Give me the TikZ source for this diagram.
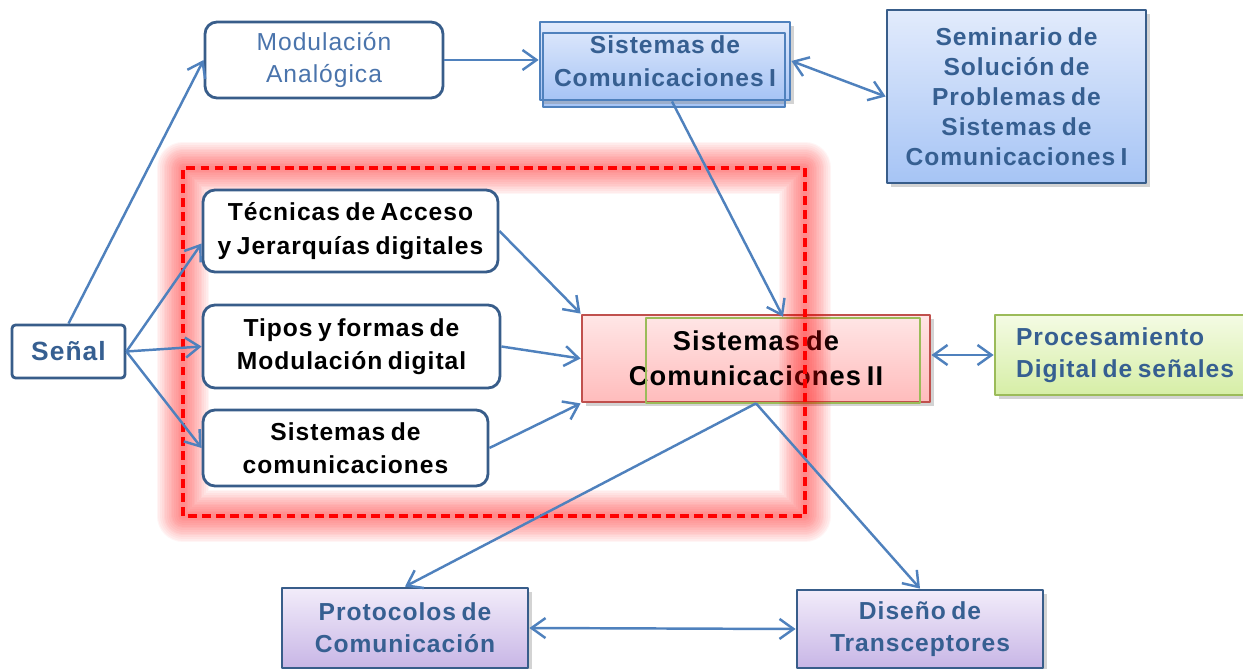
\documentclass[tikz,border=0pt]{standalone}
\usepackage{fontspec}
\setmainfont{Liberation Sans}[LetterSpace=4,WordSpace=0.7]
\usetikzlibrary{arrows.meta,shadows}
\definecolor{flecha}{RGB}{79,129,189}
\definecolor{borde}{RGB}{56,93,138}
\definecolor{texto}{RGB}{54,95,145}
\definecolor{textoclaro}{RGB}{74,116,172}
\definecolor{azularriba}{RGB}{226,235,252}
\definecolor{azulabajo}{RGB}{166,196,245}
\definecolor{verde}{RGB}{155,187,89}
\definecolor{verdearriba}{RGB}{244,251,228}
\definecolor{verdeabajo}{RGB}{214,238,166}
\definecolor{rojo}{RGB}{192,80,77}
\definecolor{rojoarriba}{RGB}{255,230,230}
\definecolor{rojoabajo}{RGB}{255,188,188}
\definecolor{lilaarriba}{RGB}{242,236,250}
\definecolor{lilaabajo}{RGB}{200,182,230}
\begin{document}
\begin{tikzpicture}[line join=round, >={Straight Barb[length=2.8mm,width=4mm]},
	caja/.style={draw=borde, line width=1.6pt, rounded corners=0.24cm, fill=white, align=center, inner sep=2pt, font=\bfseries\fontsize{14}{18.5}\selectfont},
	sombra/.style={drop shadow={opacity=0.35, shadow xshift=2.5pt, shadow yshift=-2.5pt}},
	cajaazul/.style={draw=#1, line width=1.6pt, top color=azularriba, bottom color=azulabajo, align=center, text=texto, inner sep=2pt, sombra, font=\bfseries\fontsize{14}{18}\selectfont},
	cajalila/.style={draw=borde, line width=1.6pt, top color=lilaarriba, bottom color=lilaabajo, align=center, text=texto, inner sep=2pt, sombra, minimum width=4.92cm, font=\bfseries\fontsize{14}{18}\selectfont},
	flechas/.style={draw=flecha, line width=1.4pt, ->}]
	\useasboundingbox (0,0) rectangle (24.86,13.36);
	% bloque central
	\node[draw=rojo, line width=1.6pt, top color=rojoarriba, bottom color=rojoabajo, sombra, minimum width=6.96cm, minimum height=1.74cm, align=center, font=\bfseries\fontsize{15.5}{20}\selectfont] (scii) at (15.12,6.19) {Sistemas de\\Comunicaciones II};
	\node[draw=verde, line width=1.4pt, minimum width=5.48cm, minimum height=1.70cm] (sciib) at (15.66,6.15) {};
	% recuadro rojo difuminado
	\foreach \w in {2,4,...,30}
		\draw[red, line width=\w pt, opacity=0.04] (3.66,3.04) rectangle (16.10,10.00);
	\draw[red, line width=1.9pt, dash pattern=on 5pt off 3pt] (3.66,3.04) rectangle (16.10,10.00);
	% nodos
	\node[draw=borde, line width=1.6pt, rounded corners=2pt, fill=white, text=texto, minimum width=2.26cm, minimum height=1.06cm, font=\bfseries\fontsize{15}{18}\selectfont] (senal) at (1.37,6.33) {Señal};
	\node[caja, text=textoclaro, minimum width=4.76cm, minimum height=1.52cm, font=\fontsize{14}{18.7}\selectfont] (modan) at (6.48,12.16) {Modulación\\Analógica};
	\shade[top color=azularriba, bottom color=azulabajo] (10.86,11.22) rectangle (15.70,12.70);
	\node[cajaazul=flecha, minimum width=5.00cm, minimum height=1.56cm, font=\bfseries\fontsize{14}{19}\selectfont] (sci) at (13.30,12.14) {Sistemas de\\Comunicaciones I};
	\draw[flecha, line width=1.4pt] (10.86,11.22) rectangle (15.70,12.70);
	\node[cajaazul=borde, minimum width=5.18cm, minimum height=3.46cm, font=\bfseries\fontsize{14}{17}\selectfont] (sem) at (20.33,11.43) {Seminario de\\Solución de\\Problemas de\\Sistemas de\\Comunicaciones I};
	\node[caja, minimum width=5.90cm, minimum height=1.64cm, font=\bfseries\fontsize{14}{19}\selectfont] (tec) at (7.01,8.74) {Técnicas de Acceso\\y Jerarquías digitales};
	\node[caja, minimum width=5.94cm, minimum height=1.66cm] (tip) at (7.03,6.43) {Tipos y formas de\\Modulación digital};
	\node[caja, minimum width=5.70cm, minimum height=1.52cm] (sis) at (6.91,4.40) {Sistemas de\\comunicaciones};
	\node[draw=verde, line width=1.6pt, top color=verdearriba, bottom color=verdeabajo, sombra, align=left, text=texto, minimum width=5.20cm, minimum height=1.60cm, font=\bfseries\fontsize{14}{18}\selectfont] (pro) at (22.50,6.26) {Procesamiento\\Digital de señales};
	\node[cajalila, minimum height=1.60cm] (prot) at (8.10,0.80) {Protocolos de\\Comunicación};
	\node[cajalila, minimum height=1.56cm] (dis) at (18.40,0.78) {Diseño de\\Transceptores};
	% conexiones
	\draw[flechas] (senal.north) -- (modan.west);
	\draw[flechas] (modan.east) -- (modan.east -| sci.west);
	\draw[flechas, <->] (sci.east) -- (sem.west);
	\draw[flechas] ([xshift=0.14cm]sci.south) -- (sciib.north);
	\draw[flechas] (senal.east) -- ([yshift=-0.25cm]tec.west);
	\draw[flechas] (senal.east) -- (tip.west);
	\draw[flechas] (senal.east) -- (sis.west);
	\draw[flechas] (tec.east) -- (scii.north west);
	\draw[flechas] (tip.east) -- (scii.west);
	\draw[flechas] (sis.east) -- (scii.south west);
	\draw[flechas, <->] (pro.west -| scii.east) -- (pro.west);
	\draw[flechas] (scii.south) -- (prot.north);
	\draw[flechas] (scii.south) -- (dis.north);
	\draw[flechas, <->] (prot.east) -- (dis.west);
\end{tikzpicture}
\end{document}
